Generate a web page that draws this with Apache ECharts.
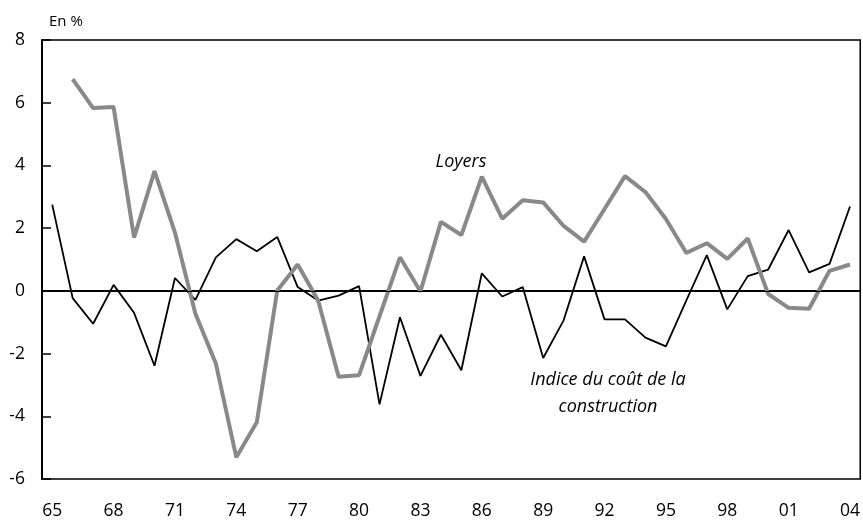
<!DOCTYPE html>
<html>
<head>
<meta charset="utf-8">
<script src="https://cdn.jsdelivr.net/npm/echarts@6/dist/echarts.min.js"></script>
<style>
  html, body { margin: 0; padding: 0; background: #fff; }
  #chart { width: 863px; height: 520px; }
</style>
</head>
<body>
<div id="chart"></div>
<script>
// years 1965 -> 2004, shown as two digits
var years = ['65','66','67','68','69','70','71','72','73','74','75','76','77','78','79',
    '80','81','82','83','84','85','86','87','88','89','90','91','92','93','94',
    '95','96','97','98','99','00','01','02','03','04'];

// Indice du coût de la construction (black line)
var construction = [2.75, -0.23, -1.05, 0.19, -0.70, -2.39, 0.41, -0.29, 1.07, 1.65,
    1.26, 1.72, 0.12, -0.31, -0.15, 0.15, -3.62, -0.84, -2.71, -1.40,
    -2.53, 0.56, -0.18, 0.12, -2.14, -0.94, 1.10, -0.91, -0.91, -1.49,
    -1.77, -0.30, 1.14, -0.59, 0.47, 0.68, 1.94, 0.59, 0.86, 2.69];

// Loyers (grey line), no value for 1965
var loyers = [null, 6.75, 5.83, 5.86, 1.70, 3.82, 1.86, -0.73, -2.32, -5.31,
    -4.19, 0.01, 0.84, -0.31, -2.74, -2.69, -0.81, 1.07, -0.02, 2.20,
    1.78, 3.64, 2.30, 2.89, 2.82, 2.07, 1.57, 2.61, 3.66, 3.15,
    2.29, 1.21, 1.52, 1.02, 1.67, -0.10, -0.54, -0.57, 0.64, 0.84];

var fontName = '"Open Sans", Lato, sans-serif';

var myChart = echarts.init(document.getElementById('chart'), null, { renderer: 'canvas' });

var option = {
    animation: false,
    grid: {
        left: 42,
        right: 2,
        top: 40,
        bottom: 39,
        show: true,
        borderColor: '#000',
        borderWidth: 1.5
    },
    xAxis: {
        type: 'category',
        data: years,
        boundaryGap: true,
        axisLine: { lineStyle: { color: '#000', width: 2 } },
        axisTick: { inside: true, length: 8, interval: 2, lineStyle: { color: '#000', width: 2 } },
        axisLabel: { interval: 2, color: '#000', fontSize: 17.5, fontFamily: fontName, margin: 23 },
        splitLine: { show: false }
    },
    yAxis: {
        type: 'value',
        min: -6,
        max: 8,
        interval: 2,
        name: 'En %',
        nameLocation: 'end',
        nameGap: 11,
        nameTextStyle: { color: '#000', fontSize: 15, fontFamily: fontName, align: 'left', padding: [0, 0, 0, 7] },
        axisLine: { show: true, lineStyle: { color: '#000', width: 2 } },
        axisTick: { show: true, inside: true, length: 9, lineStyle: { color: '#000', width: 1.5 } },
        axisLabel: { color: '#000', fontSize: 17.5, fontFamily: fontName, margin: 17 },
        splitLine: { show: false }
    },
    graphic: [
        {
            type: 'text',
            x: 461,
            y: 162,
            style: {
                text: 'Loyers', fill: '#000', font: 'italic 18px ' + fontName,
                align: 'center', textAlign: 'center', verticalAlign: 'middle', textVerticalAlign: 'middle'
            }
        },
        {
            type: 'text',
            x: 608,
            y: 380,
            style: {
                text: 'Indice du coût de la', fill: '#000', font: 'italic 18px ' + fontName,
                align: 'center', textAlign: 'center', verticalAlign: 'middle', textVerticalAlign: 'middle'
            }
        },
        {
            type: 'text',
            x: 608,
            y: 407,
            style: {
                text: 'construction', fill: '#000', font: 'italic 18px ' + fontName,
                align: 'center', textAlign: 'center', verticalAlign: 'middle', textVerticalAlign: 'middle'
            }
        }
    ],
    series: [
        {
            name: 'Indice du coût de la construction',
            type: 'line',
            data: construction,
            symbol: 'none',
            lineStyle: { color: '#000', width: 1.8 },
            z: 2,
            markLine: {
                silent: true,
                symbol: 'none',
                label: { show: false },
                lineStyle: { color: '#000', width: 1.2, type: 'solid' },
                data: [{ yAxis: 0 }]
            }
        },
        {
            name: 'Loyers',
            type: 'line',
            data: loyers,
            symbol: 'none',
            lineStyle: { color: '#898989', width: 4 },
            z: 3
        }
    ]
};

myChart.setOption(option, true);
</script>
</body>
</html>
